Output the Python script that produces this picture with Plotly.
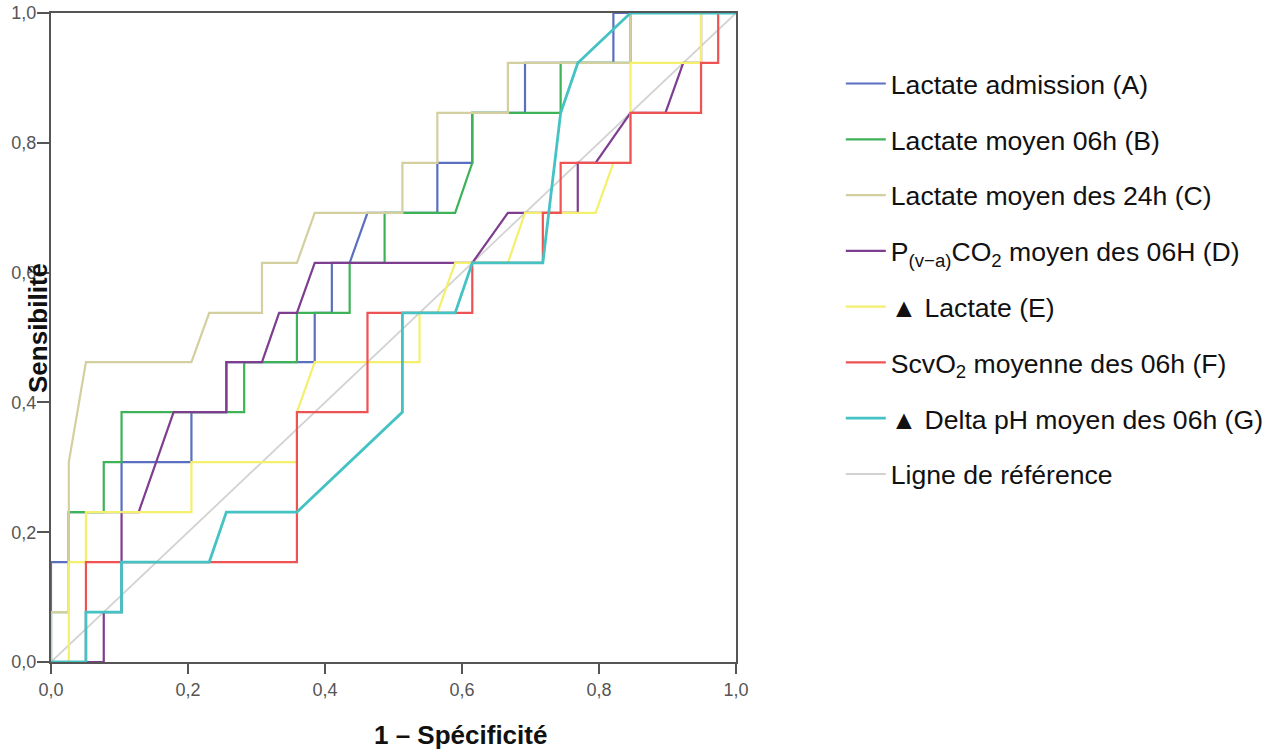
import plotly.graph_objects as go

# ROC curves: x = 1 - specificity, y = sensitivity
a_x = [0, 0, 0.026, 0.026, 0.103, 0.103, 0.205, 0.205, 0.256, 0.256, 0.385, 0.385, 0.410, 0.410, 0.436, 0.462, 0.564, 0.564, 0.615, 0.615, 0.692, 0.692, 0.821, 0.821, 1]
a_y = [0, 0.154, 0.154, 0.231, 0.231, 0.308, 0.308, 0.385, 0.385, 0.462, 0.462, 0.538, 0.538, 0.615, 0.615, 0.692, 0.692, 0.769, 0.769, 0.846, 0.846, 0.923, 0.923, 1, 1]

b_x = [0, 0, 0.026, 0.026, 0.077, 0.077, 0.103, 0.103, 0.282, 0.282, 0.359, 0.359, 0.436, 0.436, 0.487, 0.487, 0.590, 0.615, 0.615, 0.744, 0.744, 0.846, 0.846, 1]
b_y = [0, 0.077, 0.077, 0.231, 0.231, 0.308, 0.308, 0.385, 0.385, 0.462, 0.462, 0.538, 0.538, 0.615, 0.615, 0.692, 0.692, 0.769, 0.846, 0.846, 0.923, 0.923, 1, 1]

c_x = [0, 0, 0.026, 0.026, 0.051, 0.205, 0.231, 0.308, 0.308, 0.359, 0.385, 0.513, 0.513, 0.564, 0.564, 0.667, 0.667, 0.846, 0.846, 1]
c_y = [0, 0.077, 0.077, 0.308, 0.462, 0.462, 0.538, 0.538, 0.615, 0.615, 0.692, 0.692, 0.769, 0.769, 0.846, 0.846, 0.923, 0.923, 1, 1]

d_x = [0, 0.077, 0.077, 0.103, 0.103, 0.128, 0.179, 0.256, 0.256, 0.308, 0.333, 0.359, 0.385, 0.615, 0.667, 0.769, 0.769, 0.795, 0.846, 0.897, 0.923, 0.949, 0.949, 1]
d_y = [0, 0, 0.077, 0.077, 0.231, 0.231, 0.385, 0.385, 0.462, 0.462, 0.538, 0.538, 0.615, 0.615, 0.692, 0.692, 0.769, 0.769, 0.846, 0.846, 0.923, 0.923, 1, 1]

e_x = [0, 0.026, 0.026, 0.051, 0.051, 0.205, 0.205, 0.359, 0.359, 0.385, 0.538, 0.538, 0.564, 0.590, 0.667, 0.692, 0.795, 0.821, 0.846, 0.846, 0.949, 0.949, 1]
e_y = [0, 0, 0.154, 0.154, 0.231, 0.231, 0.308, 0.308, 0.385, 0.462, 0.462, 0.538, 0.538, 0.615, 0.615, 0.692, 0.692, 0.769, 0.769, 0.923, 0.923, 1, 1]

f_x = [0, 0.051, 0.051, 0.359, 0.359, 0.462, 0.462, 0.615, 0.615, 0.718, 0.718, 0.744, 0.744, 0.846, 0.846, 0.949, 0.949, 0.974, 0.974, 1]
f_y = [0, 0, 0.154, 0.154, 0.385, 0.385, 0.538, 0.538, 0.615, 0.615, 0.692, 0.692, 0.769, 0.769, 0.846, 0.846, 0.923, 0.923, 1, 1]

g_x = [0, 0.051, 0.051, 0.103, 0.103, 0.231, 0.256, 0.359, 0.513, 0.513, 0.590, 0.615, 0.718, 0.744, 0.769, 0.846, 1]
g_y = [0, 0, 0.077, 0.077, 0.154, 0.154, 0.231, 0.231, 0.385, 0.538, 0.538, 0.615, 0.615, 0.846, 0.923, 1, 1]

ref_x = [0, 1]
ref_y = [0, 1]

names = [
    "Lactate admission (A)",
    "Lactate moyen 06h (B)",
    "Lactate moyen des 24h (C)",
    "P<sub>(v\u2212a)</sub>CO<sub>2</sub> moyen des 06H (D)",
    "\u25b2 Lactate (E)",
    "ScvO<sub>2</sub> moyenne des 06h (F)",
    "\u25b2 Delta pH moyen des 06h (G)",
    "Ligne de référence",
]
colors = ["#5b6fc0", "#3db257", "#d4cf9f", "#7f3d90", "#f4ef6c", "#ef5252", "#45c2c4", "#d2d2d2"]
widths = [2.2, 2.2, 2.2, 2.2, 2.2, 2.2, 2.8, 1.8]

series = [(a_x, a_y), (b_x, b_y), (c_x, c_y), (d_x, d_y), (e_x, e_y), (f_x, f_y), (g_x, g_y)]

fig = go.Figure()
# reference line drawn first (underneath), listed last in legend
fig.add_trace(go.Scatter(x=ref_x, y=ref_y, mode="lines", name=names[7],
                         line=dict(color=colors[7], width=widths[7]),
                         legendgroup="ref", legendrank=1008))
for i, (xs, ys) in enumerate(series):
    fig.add_trace(go.Scatter(x=xs, y=ys, mode="lines", name=names[i],
                             line=dict(color=colors[i], width=widths[i]),
                             legendgroup="g%d" % i, legendrank=1000 + i))

axis_common = dict(
    range=[0, 1], dtick=0.2, tick0=0, tickformat=".1f",
    showline=True, linecolor="#555555", linewidth=2, mirror=True,
    ticks="outside", tickcolor="#555555", tickwidth=2,
    showgrid=False, zeroline=False, automargin=False,
    tickfont=dict(family="Liberation Sans, Arial, sans-serif", size=18, color="#555555"),
)

fig.update_layout(
    width=1283, height=749,
    margin=dict(l=51, r=547, t=13, b=87, autoexpand=False),
    paper_bgcolor="white", plot_bgcolor="white",
    separators=", ",
    xaxis=dict(axis_common, ticklen=10),
    yaxis=dict(axis_common, ticklen=12, ticklabelstandoff=-3),
    showlegend=True,
    legend=dict(
        x=1.153, xanchor="left", y=0.928, yanchor="top",
        font=dict(family="Liberation Sans, Arial, sans-serif", size=26.6, color="#111111"),
        tracegroupgap=18.2, bgcolor="rgba(0,0,0,0)", itemwidth=40,
    ),
    annotations=[
        dict(text="<b>1 \u2013 Spécificité</b>", xref="paper", yref="paper",
             x=(460 - 51) / 685, y=-0.112, xanchor="center", yanchor="middle",
             showarrow=False,
             font=dict(family="Liberation Sans, Arial, sans-serif", size=26, color="#111111")),
        dict(text="<b>Sensibilité</b>", xref="paper", yref="paper",
             x=(38 - 51) / 685, y=(662 - 328) / 649, xanchor="center", yanchor="middle",
             textangle=-90, showarrow=False,
             font=dict(family="Liberation Sans, Arial, sans-serif", size=26, color="#111111")),
    ],
)

# remove the browser's default 8 px body margin so the figure fills the window
fig.write_html("out.html", config={"displayModeBar": False},
               post_script="document.body.style.margin='0px';")
